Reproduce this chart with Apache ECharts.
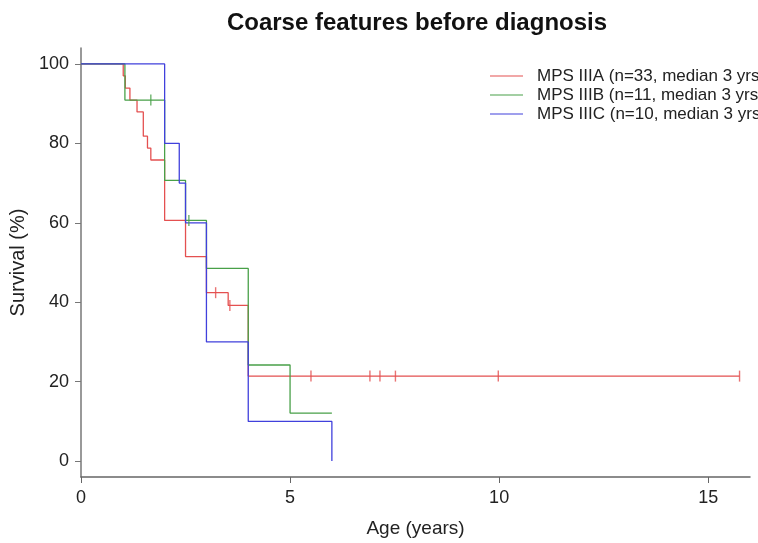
<!DOCTYPE html>
<html><head><meta charset="utf-8">
<script src="https://cdn.jsdelivr.net/npm/echarts@6/dist/echarts.min.js"></script>
<style>html,body{margin:0;padding:0;background:#fff}#c{width:758px;height:543px}</style>
</head><body><div id="c"></div>
<script>
// Kaplan-Meier step data (time in years, survival %)
const namesList = ['MPS IIIA (n=33, median 3 yrs)', 'MPS IIIB (n=11, median 3 yrs)', 'MPS IIIC (n=10, median 3 yrs)'];
const tA = [0, 1.01, 1.06, 1.17, 1.34, 1.49, 1.59, 1.67, 2.0, 2.5, 3.0, 3.52, 4.0, 15.75];
const sA = [100, 97.0, 93.9, 90.9, 87.9, 81.8, 78.8, 75.8, 60.6, 51.5, 42.4, 39.2, 21.4, 21.4];
const cA_t = [3.22, 3.56, 5.5, 6.91, 7.15, 7.52, 9.98, 15.75];
const cA_s = [42.4, 39.2, 21.4, 21.4, 21.4, 21.4, 21.4, 21.4];
const tB = [0, 1.05, 2.0, 2.5, 3.0, 4.0, 5.0, 6.0];
const sB = [100, 90.9, 70.7, 60.6, 48.5, 24.2, 12.1, 12.1];
const cB_t = [1.67, 2.58];
const cB_s = [90.9, 60.6];
const tC = [0, 2.0, 2.35, 2.5, 3.0, 4.0, 6.0];
const sC = [100, 80, 70, 60, 30, 10, 0];
const xTicks = [0, 5, 10, 15];
const yTicks = [0, 20, 40, 60, 80, 100];
const colors = ['#e45050', '#48a048', '#4040dc'];

const zip = (a, b) => a.map((v, i) => [v, b[i]]);
const chart = echarts.init(document.getElementById('c'), null, {renderer: 'canvas'});
const font = 'Liberation Sans, Arial, sans-serif';
const kmSeries = (name, t, s, col) => ({
  name, type: 'line', step: 'end', data: zip(t, s), symbol: 'none', showSymbol: false,
  lineStyle: {color: col, width: 1.3}, itemStyle: {color: col}, animation: false, z: 2
});
const censorSeries = (name, t, s, col) => ({
  name: name + ' censored', type: 'scatter', data: zip(t, s), symbol: 'rect', symbolSize: [1.4, 11],
  itemStyle: {color: col}, animation: false, z: 3
});
chart.setOption({
  animation: false,
  backgroundColor: '#fff',
  title: {
    text: 'Coarse features before diagnosis', left: 412, top: 6, textAlign: 'center',
    textStyle: {fontFamily: font, fontSize: 24, fontWeight: 'bold', color: '#111'}
  },
  legend: {
    data: namesList, orient: 'vertical', left: 485, top: 62, itemWidth: 33, itemHeight: 10, itemGap: 1,
    icon: 'path://M0,4.5L33,4.5L33,5.5L0,5.5Z',
    textStyle: {fontFamily: font, fontSize: 17, color: '#222', padding: [0, 0, 0, 9], lineHeight: 18}
  },
  grid: {left: 81, right: 8, top: 48, bottom: 65, containLabel: false},
  xAxis: {
    type: 'value', min: 0, max: 16,
    name: 'Age (years)', nameLocation: 'middle', nameGap: 42,
    nameTextStyle: {fontFamily: font, fontSize: 19, color: '#222'},
    axisLine: {show: true, onZero: false, lineStyle: {color: '#666', width: 1.5}},
    axisTick: {show: true, length: 6, customValues: xTicks, lineStyle: {color: '#666'}},
    axisLabel: {customValues: xTicks, fontFamily: font, fontSize: 18, color: '#222', margin: 12},
    splitLine: {show: false}
  },
  yAxis: {
    type: 'value', min: -4, max: 104,
    name: 'Survival (%)', nameLocation: 'middle', nameGap: 46, nameRotate: 90,
    nameTextStyle: {fontFamily: font, fontSize: 20, color: '#222'},
    axisLine: {show: true, onZero: false, lineStyle: {color: '#777', width: 1.5}},
    axisTick: {show: true, length: 6, customValues: yTicks, lineStyle: {color: '#777'}},
    axisLabel: {customValues: yTicks, fontFamily: font, fontSize: 18, color: '#222', margin: 12},
    splitLine: {show: false}
  },
  series: [
    kmSeries(namesList[0], tA, sA, colors[0]),
    kmSeries(namesList[1], tB, sB, colors[1]),
    kmSeries(namesList[2], tC, sC, colors[2]),
    censorSeries(namesList[0], cA_t, cA_s, colors[0]),
    censorSeries(namesList[1], cB_t, cB_s, colors[1])
  ]
});
</script></body></html>
